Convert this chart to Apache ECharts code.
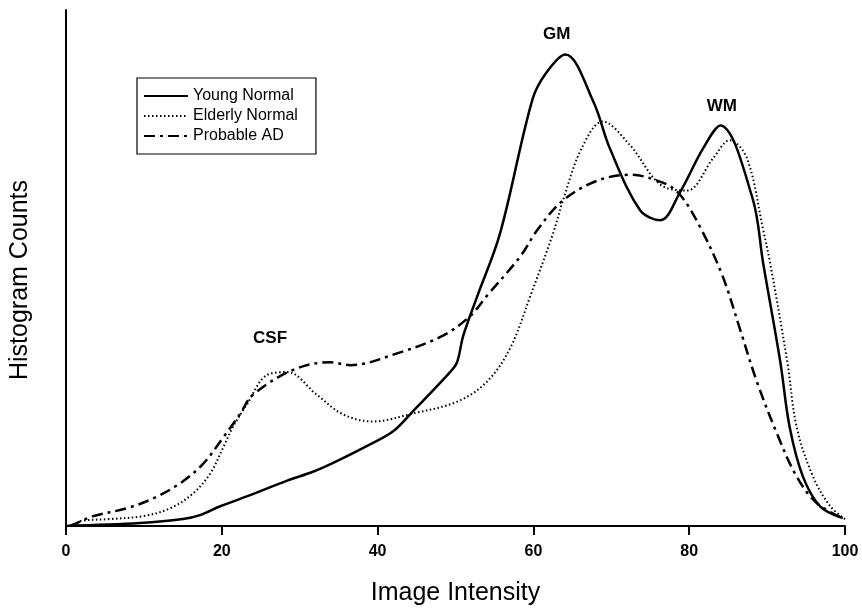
<!DOCTYPE html>
<html>
<head>
<meta charset="utf-8">
<script src="https://cdn.jsdelivr.net/npm/echarts@6/dist/echarts.min.js"></script>
<style>html,body{margin:0;padding:0;background:#fff}#c{width:862px;height:611px}</style>
</head>
<body>
<div id="c"></div>
<script>
// x tick labels
const xTicks = [0, 20, 40, 60, 80, 100];
// Young Normal (solid)
const youngX = [0, 9.5, 15, 17.2, 19.8, 23.2, 28.4, 31.7, 34.3, 38.6, 42, 44.5, 49.3, 50.2, 51, 52.8, 55.7, 59.9, 61.7, 64.1, 67.7, 69.8, 73.7, 76.3, 78.8, 81.8, 84, 88.1, 89.5, 91.7, 92.9, 94.6, 96.8, 99.7];
const youngY = [0, 3, 7, 11, 20, 30, 46, 55, 64, 81, 96, 116, 156, 166, 193, 233, 296, 433, 460, 478, 430, 383, 320, 310, 338, 383, 406, 333, 266, 166, 100, 50, 20, 8];
// Elderly Normal (dotted)
const elderX = [1, 1.8, 5.6, 9.9, 13.4, 16.3, 18.5, 20.2, 21.4, 23.2, 25.8, 28.4, 32.2, 35.6, 39.4, 44.5, 50.2, 54, 57, 59.6, 62.5, 63.8, 66.2, 68.9, 72.4, 76.3, 79.7, 83.1, 85.2, 87.4, 89.5, 90.4, 92.6, 93.8, 95.9, 98.1, 100];
const elderY = [0, 5, 7, 10, 18, 33, 53, 80, 100, 123, 153, 156, 133, 113, 106, 114, 126, 146, 180, 233, 296, 330, 383, 410, 386, 346, 340, 373, 391, 373, 300, 266, 166, 100, 50, 20, 7];
// Probable AD (dash-dot)
const adX = [0.5, 1.4, 3.5, 7.8, 11.2, 14.6, 17.6, 20.2, 22.3, 24, 29.1, 33.9, 36.5, 42.5, 48.4, 51.9, 54, 58.3, 60.5, 63.8, 68.2, 72.4, 76.6, 78.8, 81.4, 84.3, 86.5, 88.7, 91.3, 93.8, 96.4, 99.7];
const adY = [0, 3, 10, 18, 28, 43, 63, 90, 113, 133, 158, 166, 163, 175, 193, 213, 233, 273, 300, 330, 350, 356, 348, 336, 303, 253, 200, 146, 93, 50, 23, 8];
// series names
const seriesNames = ['Young Normal', 'Elderly Normal', 'Probable AD'];
// peak annotations
const annText = ['GM', 'WM', 'CSF'];
const annX = [63.0, 84.2, 26.2];
const annY = [498, 425, 190];

function pairs(xs, ys) { return xs.map((x, i) => [x, ys[i]]); }

const chart = echarts.init(document.getElementById('c'), null, { renderer: 'canvas' });
const FONT = 'Liberation Sans, Arial, sans-serif';

const lineStyles = [
  { color: '#000', width: 2.5, type: 'solid' },
  { color: '#000', width: 2, type: [1.5, 2.5], cap: 'butt' },
  { color: '#000', width: 2.5, type: [11, 5, 3, 5], cap: 'butt' }
];
const datas = [pairs(youngX, youngY), pairs(elderX, elderY), pairs(adX, adY)];

const series = datas.map((d, i) => ({
  name: seriesNames[i],
  type: 'line',
  data: d,
  smooth: 0.35,
  symbol: 'none',
  lineStyle: lineStyles[i],
  itemStyle: { color: '#000' },
  emphasis: { disabled: true },
  animation: false,
  z: 3 - i
}));

chart.setOption({
  backgroundColor: '#fff',
  animation: false,
  grid: { left: 66, right: 17, top: 10, bottom: 78 },
  legend: {
    data: seriesNames,
    orient: 'vertical',
    left: 137, top: 78,
    borderColor: '#000', borderWidth: 1.2,
    padding: [10, 18, 10, 6],
    itemGap: 4,
    itemWidth: 44, itemHeight: 16,
    itemStyle: { opacity: 0 },
    textStyle: { fontFamily: FONT, fontSize: 16, color: '#000' }
  },
  xAxis: {
    type: 'value', min: 0, max: 100, interval: 20,
    name: 'Image Intensity', nameLocation: 'middle', nameGap: 55,
    nameTextStyle: { fontFamily: FONT, fontSize: 25, color: '#000' },
    axisLine: { show: true, lineStyle: { color: '#000', width: 2 } },
    axisTick: { show: true, length: 9, lineStyle: { color: '#000', width: 2 } },
    axisLabel: { margin: 18, fontFamily: FONT, fontWeight: 'bold', fontSize: 16, color: '#000',
      formatter: v => xTicks.includes(v) ? String(v) : '' },
    splitLine: { show: false }
  },
  yAxis: {
    type: 'value', min: 0, max: 523,
    axisLine: { show: true, lineStyle: { color: '#000', width: 2 } },
    axisTick: { show: false },
    axisLabel: { show: false },
    splitLine: { show: false }
  },
  series: series
});

const graphics = annText.map((t, i) => {
  const p = chart.convertToPixel({ gridIndex: 0 }, [annX[i], annY[i]]);
  return {
    type: 'text', x: p[0], y: p[1], silent: true,
    style: { text: t, fill: '#000', font: 'bold 17px ' + FONT, align: 'center', verticalAlign: 'middle' }
  };
});
graphics.push({
  type: 'text', x: 20, y: 280, rotation: Math.PI / 2, silent: true,
  style: { text: 'Histogram Counts', fill: '#000', font: '25px ' + FONT, align: 'center', verticalAlign: 'middle' }
});
chart.setOption({ graphic: graphics });
</script>
</body>
</html>
